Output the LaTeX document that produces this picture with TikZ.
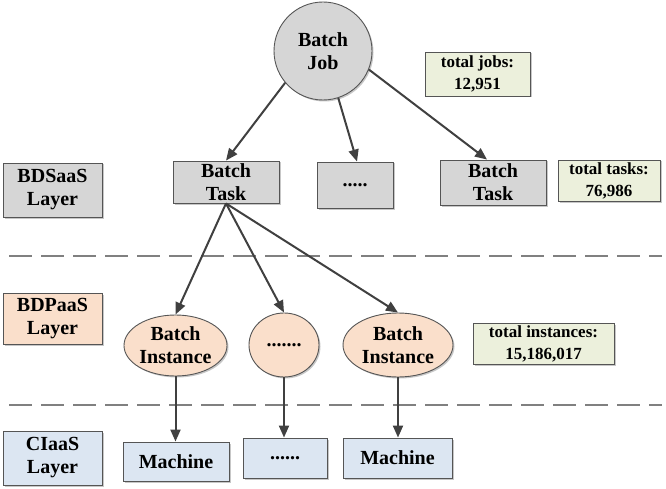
\documentclass[tikz,border=0pt]{standalone}
\usepackage{fontspec}
\setmainfont{Liberation Serif}
\usetikzlibrary{arrows.meta,shadows,calc,shapes.geometric}
\definecolor{gfill}{HTML}{D6D6D6}
\definecolor{pfill}{HTML}{FADFCB}
\definecolor{bfill}{HTML}{DCE6F2}
\definecolor{sfill}{HTML}{ECF0DC}
\definecolor{edge}{HTML}{555555}
\definecolor{arrc}{HTML}{404040}
\definecolor{dashc}{HTML}{808080}
\begin{document}
\begin{tikzpicture}[x=1pt,y=-1pt,
  shd/.style={drop shadow={shadow xshift=1.5pt,shadow yshift=-1.5pt,fill=black,opacity=0.22}},
  base/.style={draw=edge,line width=0.9pt,inner sep=0pt,align=center,shd,
     font=\bfseries\fontsize{20}{23}\selectfont},
  gbox/.style={base,rectangle,fill=gfill},
  pbox/.style={base,rectangle,fill=pfill},
  bbox/.style={base,rectangle,fill=bfill},
  pell/.style={base,ellipse,fill=pfill},
  sbox/.style={base,rectangle,fill=sfill,font=\bfseries\fontsize{17}{22}\selectfont},
  arr/.style={draw=arrc,line width=2pt,-{Triangle[length=12pt,width=10pt]}},
  sep/.style={draw=dashc,line width=1.8pt,dash pattern=on 23pt off 9pt}
]
\useasboundingbox (0,0) rectangle (666,489);

% top
\node[base,circle,fill=gfill,minimum size=98pt] (job) at (323,51) {Batch\\Job};
\node[sbox,minimum width=105pt,minimum height=44pt] (sjobs) at (477.5,74) {total jobs:\\12,951};

% BDSaaS row
\node[gbox,minimum width=99pt,minimum height=54pt] (lsaas) at (52.5,190) {BDSaaS\\Layer};
\node[gbox,minimum width=106pt,minimum height=42pt] (task1) at (226,182) {Batch\\Task};
\node[gbox,minimum width=76pt,minimum height=46pt] (taskd) at (355,185) {.....};
\node[gbox,minimum width=106pt,minimum height=45pt] (task2) at (493,182.5) {Batch\\Task};
\node[sbox,minimum width=102pt,minimum height=41pt] (stasks) at (609,180.5) {total tasks:\\76,986};

% BDPaaS row
\node[pbox,minimum width=99pt,minimum height=51pt] (lpaas) at (52.5,318.5) {BDPaaS\\Layer};
\node[pell,minimum width=103pt,minimum height=61pt] (inst1) at (175.5,345.5) {Batch\\Instance};
\node[pell,minimum width=70pt,minimum height=64pt] (instd) at (284,345) {.......};
\node[pell,minimum width=110pt,minimum height=64pt] (inst2) at (398,345) {Batch\\Instance};
\node[sbox,minimum width=141pt,minimum height=41pt] (sinst) at (543.5,343.5) {total instances:\\15,186,017};

% CIaaS row
\node[bbox,minimum width=99pt,minimum height=54pt] (liaas) at (52.5,458) {CIaaS\\Layer};
\node[bbox,minimum width=106pt,minimum height=39pt] (m1) at (176,461.5) {Machine};
\node[bbox,minimum width=84pt,minimum height=40pt] (md) at (285,458) {......};
\node[bbox,minimum width=109pt,minimum height=40pt] (m2) at (397.5,458) {Machine};

% separators
\coordinate (s1a) at (9,256);
\coordinate (s1b) at (662,256);
\coordinate (s2a) at (9,405);
\coordinate (s2b) at (662,405);
\draw[sep] (s1a) -- (s1b);
\draw[sep] (s2a) -- (s2b);

% arrows
\draw[arr] (job.-140) -- (task1.north);
\draw[arr] (job.-72) -- ($(taskd.north)+(2,0)$);
\draw[arr] (job.-22) -- ($(task2.north)+(-6,0)$);
\draw[arr] (task1.south) -- (inst1.north);
\draw[arr] (task1.south) -- (instd.north);
\draw[arr] (task1.south) -- (inst2.north);
\draw[arr] (inst1.south) -- (inst1.south |- m1.north);
\draw[arr] (instd.south) -- (instd.south |- md.north);
\draw[arr] (inst2.south) -- (inst2.south |- m2.north);
\end{tikzpicture}
\end{document}
